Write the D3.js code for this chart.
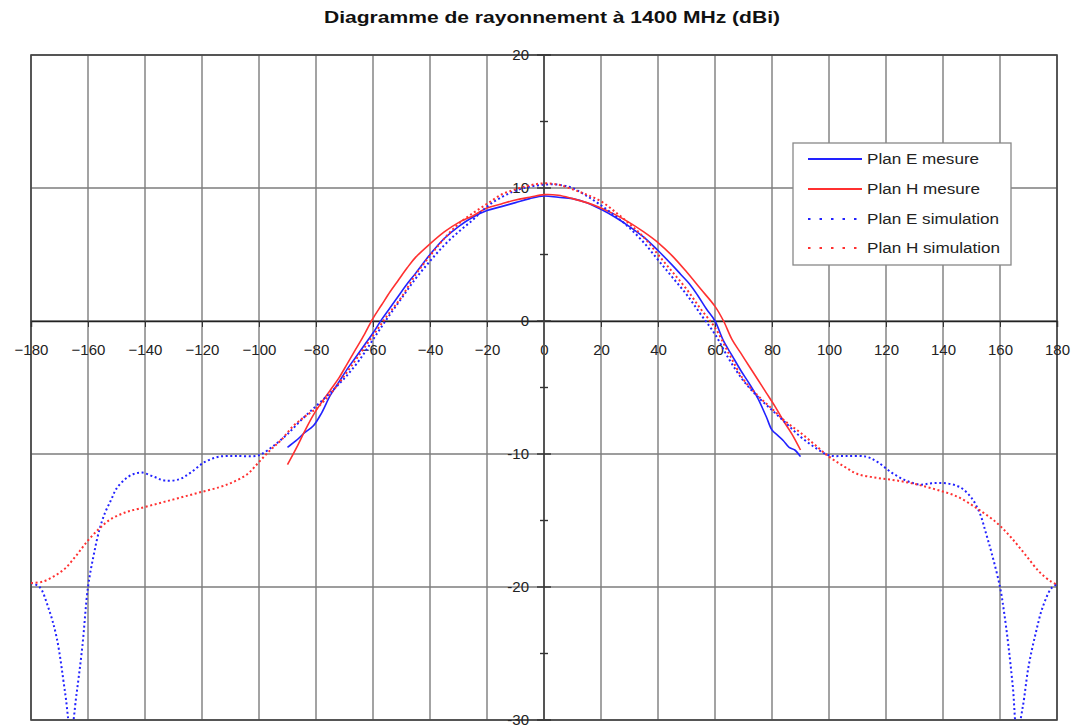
<!DOCTYPE html>
<html>
<head>
<meta charset="utf-8">
<script src="https://cdn.jsdelivr.net/npm/d3@7/dist/d3.min.js"></script>
<style>
  body { margin: 0; background: #fff; }
  text { font-family: "Liberation Sans", Arial, sans-serif; }
</style>
</head>
<body>
<script>
// angles in degrees, gains in dBi
const angMesE = [-90,-87,-84,-81,-78,-75,-72,-69,-66,-63,-60,-57,-54,-51,-48,-45,-40,-35,-30,-25,-20,-15,-10,-5,0,5,10,15,20,25,30,35,40,45,48,51,54,57,60,63,66,69,72,75,78,80,82,84,86,88,90];
const valMesE = [-9.5,-9.0,-8.4,-7.9,-6.9,-5.6,-4.6,-3.6,-2.7,-1.8,-0.9,0.1,1.0,1.9,2.8,3.6,5.0,6.2,7.1,7.8,8.3,8.6,8.9,9.2,9.4,9.3,9.2,8.9,8.4,7.8,7.1,6.3,5.3,4.2,3.5,2.8,1.9,0.9,0,-1.5,-2.6,-3.7,-4.7,-5.8,-7.2,-8.2,-8.6,-9.0,-9.5,-9.7,-10.2];

const angMesH = [-90,-87,-84,-81,-78,-75,-72,-69,-66,-63,-60,-57,-54,-51,-48,-45,-40,-35,-30,-25,-20,-15,-10,-5,0,5,10,15,20,25,30,35,40,45,50,55,60,63,66,69,72,75,78,81,84,87,90];
const valMesH = [-10.8,-9.6,-8.3,-7.1,-6.1,-5.2,-4.3,-3.2,-2.1,-1.0,0.2,1.2,2.2,3.1,4.0,4.8,5.8,6.7,7.4,7.9,8.5,8.8,9.1,9.3,9.5,9.45,9.2,8.9,8.5,8.0,7.4,6.7,5.9,4.9,3.7,2.4,1.1,0,-1.4,-2.4,-3.4,-4.4,-5.4,-6.4,-7.5,-8.5,-9.7];

const angSimE = [-180,-177,-174,-171,-168,-166,-164,-162,-160,-158,-156,-154,-152,-150,-147,-144,-141,-137,-133,-128,-124,-119,-114,-108,-101,-99,-95,-90,-85,-80,-75,-70,-65,-60,-55,-50,-45,-40,-35,-30,-25,-20,-15,-10,-5,0,5,10,15,20,25,30,35,40,45,50,55,60,65,70,75,80,85,90,95,100,106,113,117,122,127,132,136,141,146,150,153,155,157,160,161.5,163,164.5,166,168,170,172.5,175,178,180];
const valSimE = [-19.7,-20.0,-21.5,-23.8,-28.0,-31,-28,-24.5,-20,-17.6,-15.7,-14.4,-13.5,-12.6,-11.9,-11.5,-11.4,-11.7,-12.0,-11.9,-11.4,-10.6,-10.2,-10.15,-10.15,-10.0,-9.4,-8.5,-7.4,-6.4,-5.4,-4.3,-3.0,-1.4,0.2,1.7,3.2,4.5,5.7,6.7,7.6,8.6,9.3,9.8,10.1,10.25,10.25,10.0,9.4,8.7,7.9,7.0,5.9,4.6,3.3,2.0,0.5,-1.0,-2.9,-4.5,-5.7,-6.7,-7.7,-8.7,-9.5,-10.1,-10.15,-10.2,-10.6,-11.4,-12.0,-12.3,-12.2,-12.2,-12.5,-13.3,-14.5,-15.9,-17.4,-20.0,-22,-24.5,-27.5,-31,-29,-26,-23.5,-21.5,-20.1,-19.8];

const angSimH = [-180,-176,-172,-168,-164,-160,-156,-152,-147,-142,-135,-128,-121,-114,-109,-104,-100,-96,-92,-88,-84,-80,-75,-70,-65,-60,-55,-50,-45,-40,-35,-30,-25,-20,-15,-10,-5,0,5,10,15,20,25,30,35,40,45,50,55,60,65,70,75,80,85,90,95,100,105,110,117,124,131,138,145,152,159,164,169,174,178,180];
const valSimH = [-19.7,-19.6,-19.2,-18.6,-17.6,-16.5,-15.6,-14.9,-14.4,-14.1,-13.7,-13.3,-12.9,-12.5,-12.1,-11.5,-10.6,-9.7,-8.9,-7.9,-7.2,-6.6,-5.5,-4.1,-2.6,-1.1,0.4,1.8,3.5,4.9,6.2,7.3,8.1,8.8,9.5,9.9,10.2,10.35,10.25,9.9,9.5,9.0,8.2,7.3,6.3,5.0,3.7,2.4,0.9,-0.5,-2.5,-4.4,-5.6,-6.6,-7.6,-8.4,-9.3,-10.2,-10.9,-11.5,-11.8,-12.0,-12.3,-12.7,-13.2,-14.1,-15.2,-16.3,-17.6,-18.9,-19.6,-19.8];

const xTicks = [-180,-160,-140,-120,-100,-80,-60,-40,-20,0,20,40,60,80,100,120,140,160,180];
const yTicks = [-30,-20,-10,0,10,20];
const yMinor = [-25,-15,-5,5,15];

const series = [
  { name: "Plan E mesure", ang: angMesE, val: valMesE, color: "#2222ff", dash: null },
  { name: "Plan H mesure", ang: angMesH, val: valMesH, color: "#ff3030", dash: null },
  { name: "Plan E simulation", ang: angSimE, val: valSimE, color: "#2222ff", dash: "2,2.6" },
  { name: "Plan H simulation", ang: angSimH, val: valSimH, color: "#ff3030", dash: "2,2.6" }
];

const W = 1076, H = 727;
const svg = d3.select("body").append("svg").attr("width", W).attr("height", H);

const x = d3.scaleLinear().domain([-180, 180]).range([31, 1057]);
const y = d3.scaleLinear().domain([-30, 20]).range([720, 55]);

// title
svg.append("text")
  .attr("x", 552).attr("y", 23)
  .attr("text-anchor", "middle")
  .attr("font-size", 16).attr("font-weight", "bold").attr("fill", "#111")
  .attr("textLength", 456).attr("lengthAdjust", "spacingAndGlyphs")
  .text("Diagramme de rayonnement à 1400 MHz (dBi)");

// grid
svg.append("g").selectAll("line").data(xTicks).join("line")
  .attr("x1", d => x(d)).attr("x2", d => x(d))
  .attr("y1", y(20)).attr("y2", y(-30))
  .attr("stroke", "#7c7c7c").attr("stroke-width", 1.4);
svg.append("g").selectAll("line").data(yTicks).join("line")
  .attr("x1", x(-180)).attr("x2", x(180))
  .attr("y1", d => y(d)).attr("y2", d => y(d))
  .attr("stroke", "#7c7c7c").attr("stroke-width", 1.4);

// frame
svg.append("rect")
  .attr("x", x(-180)).attr("y", y(20))
  .attr("width", x(180) - x(-180)).attr("height", y(-30) - y(20))
  .attr("fill", "none").attr("stroke", "#444").attr("stroke-width", 1.6);

// x axis on the 0 dB line
const xAxis = svg.append("g")
  .attr("transform", `translate(0,${y(0)})`)
  .call(d3.axisBottom(x).tickValues(xTicks).tickSize(6).tickPadding(17).tickFormat(d3.format("d")));
xAxis.select(".domain").attr("stroke", "#222").attr("stroke-width", 1.4);
xAxis.selectAll(".tick line").attr("stroke", "#333");
xAxis.selectAll("text").attr("font-size", 15).attr("fill", "#222")
  .attr("font-family", "Liberation Sans, Arial, sans-serif");

// y axis on the 0 degree line
const yAxis = svg.append("g").attr("transform", `translate(${x(0)},0)`);
yAxis.append("line").attr("y1", y(20)).attr("y2", y(-30))
  .attr("stroke", "#555").attr("stroke-width", 2);
yAxis.selectAll(".maj").data(yTicks).join("line").attr("class", "maj")
  .attr("x1", -7).attr("x2", 7).attr("y1", d => y(d)).attr("y2", d => y(d))
  .attr("stroke", "#333").attr("stroke-width", 1.4);
yAxis.selectAll(".min").data(yMinor).join("line").attr("class", "min")
  .attr("x1", -4).attr("x2", 4).attr("y1", d => y(d)).attr("y2", d => y(d))
  .attr("stroke", "#333").attr("stroke-width", 1.4);
yAxis.selectAll("text").data(yTicks).join("text")
  .attr("x", -15).attr("y", d => y(d)).attr("dy", "0.36em")
  .attr("text-anchor", "end").attr("font-size", 15).attr("fill", "#222")
  .text(d => d);

// curves
svg.append("clipPath").attr("id", "plotClip").append("rect")
  .attr("x", x(-180)).attr("y", y(20))
  .attr("width", x(180) - x(-180)).attr("height", y(-30) - y(20));

const line = d3.line()
  .x(d => x(d[0])).y(d => y(d[1]))
  .curve(d3.curveCatmullRom.alpha(0.5));

const plot = svg.append("g").attr("clip-path", "url(#plotClip)");
series.forEach(s => {
  const pts = s.ang.map((a, i) => [a, s.val[i]]);
  plot.append("path")
    .datum(pts)
    .attr("d", line)
    .attr("fill", "none")
    .attr("stroke", s.color)
    .attr("stroke-width", s.dash ? 2 : 1.6)
    .attr("stroke-dasharray", s.dash);
});

// legend
const lg = svg.append("g");
lg.append("rect").attr("x", 793).attr("y", 143).attr("width", 218).attr("height", 122)
  .attr("fill", "#fff").attr("stroke", "#888").attr("stroke-width", 1.3);
const legendY = [159, 189, 219, 248];
series.forEach((s, i) => {
  lg.append("line")
    .attr("x1", 808).attr("x2", 862)
    .attr("y1", legendY[i]).attr("y2", legendY[i])
    .attr("stroke", s.color).attr("stroke-width", s.dash ? 2.2 : 2)
    .attr("stroke-dasharray", s.dash ? "2.5,9" : null);
  lg.append("text")
    .attr("transform", `translate(867,${legendY[i]}) scale(1.14,1)`)
    .attr("dy", "0.36em")
    .attr("font-size", 15).attr("fill", "#222")
    .text(s.name);
});
</script>
</body>
</html>
